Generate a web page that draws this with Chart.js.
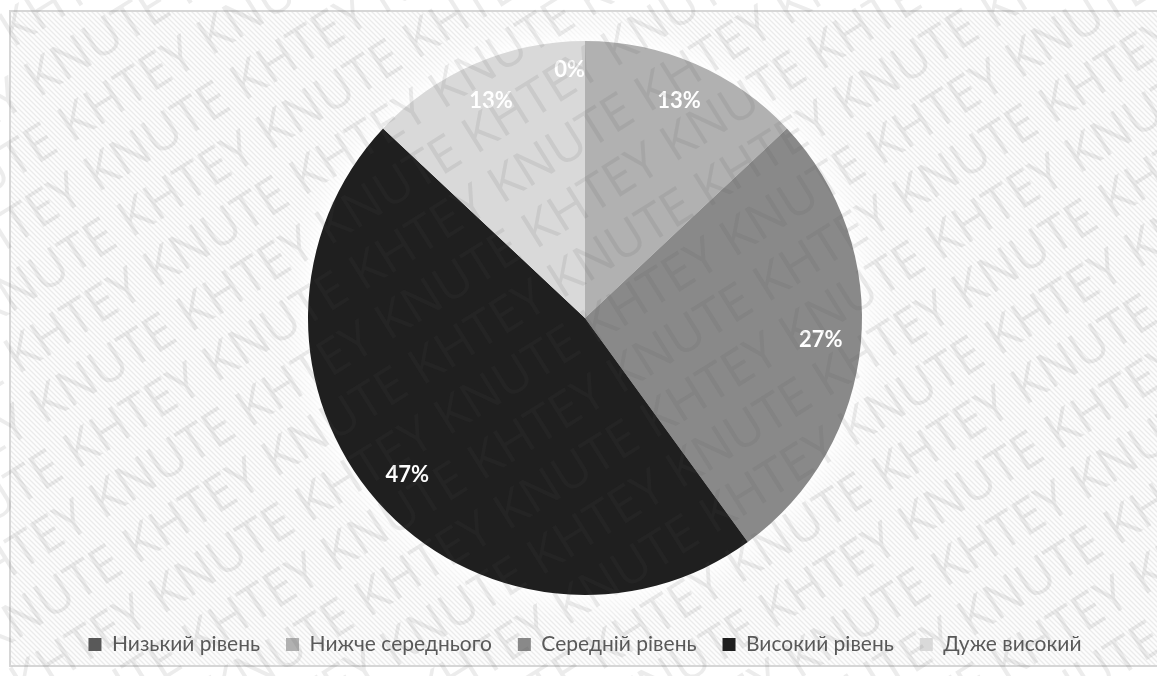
<!DOCTYPE html>
<html lang="uk">
<head>
<meta charset="utf-8">
<title>Рівні</title>
<script src="https://cdn.jsdelivr.net/npm/chart.js@4.4.1/dist/chart.umd.min.js"></script>
<style>
    html, body { margin: 0; padding: 0; background: #fff; }
    #grafikRivniv { display: block; }
</style>
</head>
<body>
<canvas id="grafikRivniv" width="1157" height="676"></canvas>
<script>
const rivni = ['Низький рівень', 'Нижче середнього', 'Середній рівень', 'Високий рівень', 'Дуже високий'];
const vidsotky = [0, 13, 27, 47, 13];
const kolory = ['#595959', '#b1b1b1', '#898989', '#1f1f1f', '#d9d9d9'];
const napys = 'KHTEY KNUTE';

const ctx = document.getElementById('grafikRivniv').getContext('2d');

// Смужки для фону
function smuzhky(c) {
    const n = 5;
    const tile = document.createElement('canvas');
    tile.width = n;
    tile.height = n;
    const t = tile.getContext('2d');
    t.fillStyle = '#fdfdfd';
    t.fillRect(0, 0, n, n);
    t.strokeStyle = '#ebebeb';
    t.lineWidth = 1.3;
    t.beginPath();
    t.moveTo(-1, -1); t.lineTo(n + 1, n + 1);
    t.moveTo(-1, n - 1); t.lineTo(1, n + 1);
    t.moveTo(n - 1, -1); t.lineTo(n + 1, 1);
    t.stroke();
    return c.createPattern(tile, 'repeat');
}

// Фон, рамка і світле гало навколо круга
const fon = {
    id: 'fon',
    beforeDraw(chart) {
        const c = chart.ctx;
        c.save();
        c.fillStyle = '#fff';
        c.fillRect(0, 0, chart.width, chart.height);
        c.fillStyle = smuzhky(c);
        c.fillRect(10, 11, chart.width - 10, chart.height - 21);
        c.strokeStyle = '#d6d6d6';
        c.lineWidth = 2;
        c.strokeRect(10, 11, chart.width + 10, chart.height - 21);
        c.restore();
    },
    beforeDatasetsDraw(chart) {
        const c = chart.ctx;
        const arc = chart.getDatasetMeta(0).data[0];
        c.save();
        c.shadowColor = 'rgba(255,255,255,1)';
        c.shadowBlur = 35;
        c.fillStyle = '#fff';
        for (let k = 0; k < 2; k++) {
            c.beginPath();
            c.arc(arc.x, arc.y, arc.outerRadius, 0, Math.PI * 2);
            c.fill();
        }
        c.restore();
    }
};

// Підписи відсотків на секторах
const pidpysy = {
    id: 'pidpysy',
    afterDatasetsDraw(chart) {
        const c = chart.ctx;
        const meta = chart.getDatasetMeta(0);
        c.save();
        c.font = 'bold 22px Lato';
        c.fillStyle = '#fff';
        c.textBaseline = 'middle';
        meta.data.forEach((arc, i) => {
            const v = vidsotky[i];
            const kut = (arc.startAngle + arc.endAngle) / 2;
            let r = arc.outerRadius * 0.855;
            c.textAlign = 'center';
            if (v === 0) {
                r = arc.outerRadius * 0.895;
                c.textAlign = 'right';
            }
            c.fillText(v + '%', arc.x + Math.cos(kut) * r, arc.y + Math.sin(kut) * r);
        });
        c.restore();
    }
};

// Водяний знак поверх усього
const znak = {
    id: 'znak',
    afterDraw(chart) {
        const c = chart.ctx;
        c.save();
        c.translate(chart.width / 2, chart.height / 2);
        c.rotate(-32 * Math.PI / 180);
        c.font = '50px "Open Sans"';
        c.fillStyle = 'rgba(85,85,85,0.11)';
        c.textBaseline = 'middle';
        const krok = c.measureText(napys + ' ').width;
        const ryadok = (napys + ' ').repeat(10);
        for (let k = -14; k <= 14; k++) {
            const zsuv = ((k % 2) + 2) % 2 * krok / 2;
            c.fillText(ryadok, -1000 + zsuv, k * 56);
        }
        c.restore();
    }
};

const grafik = new Chart(ctx, {
    type: 'pie',
    data: {
        labels: rivni,
        datasets: [{
            data: vidsotky,
            backgroundColor: kolory,
            borderWidth: 0,
            radius: 277
        }]
    },
    options: {
        responsive: false,
        animation: false,
        layout: {
            padding: { left: 13, right: 0, top: 28, bottom: 11 }
        },
        plugins: {
            tooltip: { enabled: false },
            legend: {
                position: 'bottom',
                labels: {
                    boxWidth: 13,
                    boxHeight: 13,
                    padding: 26,
                    color: '#595959',
                    font: { family: 'Lato', size: 21 }
                }
            }
        }
    },
    plugins: [fon, pidpysy, znak]
});
</script>
</body>
</html>
